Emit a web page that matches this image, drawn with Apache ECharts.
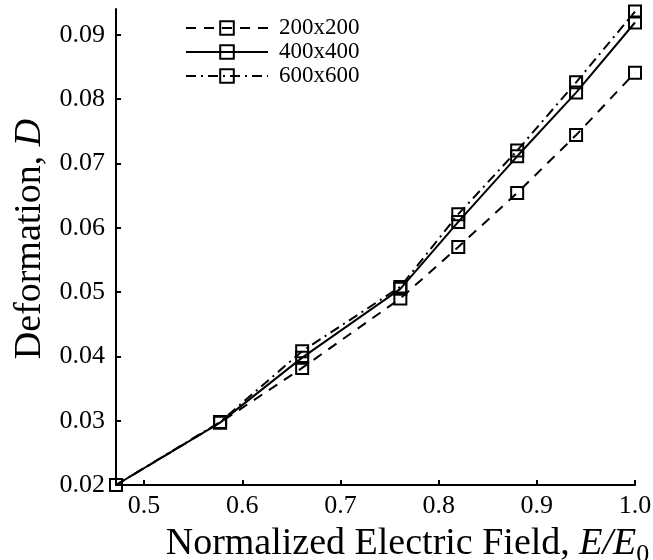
<!DOCTYPE html>
<html>
<head>
<meta charset="utf-8">
<script src="https://cdn.jsdelivr.net/npm/echarts@6/dist/echarts.min.js"></script>
<style>html,body{margin:0;padding:0;background:#fff}#c{width:653px;height:560px}</style>
</head>
<body>
<div id="c"></div>
<script>
var fieldValues = [0.4714, 0.5774, 0.661, 0.761, 0.82, 0.88, 0.94, 1.0];
var def200 = [0.0200, 0.0297, 0.0382, 0.0490, 0.0570, 0.0654, 0.0744, 0.0841];
var def400 = [0.0200, 0.0297, 0.0398, 0.0505, 0.0609, 0.0711, 0.0810, 0.0919];
var def600 = [0.0200, 0.0298, 0.0408, 0.0508, 0.0621, 0.0720, 0.0826, 0.0936];
var seriesNames = ['200x200', '400x400', '600x600'];
var xTicks = [0.5, 0.6, 0.7, 0.8, 0.9, 1.0];
var yTicks = [0.02, 0.03, 0.04, 0.05, 0.06, 0.07, 0.08, 0.09];

var FONT = 'Liberation Serif';
function pairs(ys){ return fieldValues.map(function(x,i){ return [x, ys[i]]; }); }
function mk(name, ys, type){
  return {
    name: name, type: 'line', data: pairs(ys),
    symbol: 'rect', symbolSize: 12, clip: false,
    lineStyle: {color: '#000', width: 2, type: type},
    itemStyle: {color: 'rgba(255,255,255,0)', borderColor: '#000', borderWidth: 2},
    emphasis: {disabled: true}, animation: false
  };
}
var chart = echarts.init(document.getElementById('c'), null, {renderer: 'canvas'});
chart.setOption({
  animation: false,
  backgroundColor: '#fff',
  grid: {left: 116, right: 18, top: 9, bottom: 75, containLabel: false, outerBoundsMode: 'none'},
  legend: {
    orient: 'vertical', left: 185, top: 16, itemGap: 0, padding: 0,
    itemWidth: 82, itemHeight: 17,
    textStyle: {fontFamily: FONT, fontSize: 23, color: '#000', lineHeight: 24, padding: [0,0,0,6]},
    data: seriesNames
  },
  xAxis: {
    type: 'value', min: 0.4714, max: 1.0,
    splitLine: {show: false},
    axisLine: {onZero: false, lineStyle: {color: '#000', width: 2}},
    axisTick: {inside: true, length: 5, lineStyle: {color: '#000', width: 2}, customValues: xTicks},
    axisLabel: {customValues: xTicks, fontFamily: FONT, fontSize: 26, color: '#000', margin: 8,
      formatter: function(v){ return v.toFixed(1); }},
    name: '{n|Normalized Electric Field, }{i|E/E}{s|0}',
    nameLocation: 'middle', nameGap: 35,
    nameTextStyle: {padding: [0,0,0,64], rich: {
      n: {fontFamily: FONT, fontSize: 38, color: '#000'},
      i: {fontFamily: FONT, fontSize: 38, fontStyle: 'italic', color: '#000'},
      s: {fontFamily: FONT, fontSize: 26, color: '#000', padding: [22,0,0,0]}
    }}
  },
  yAxis: {
    type: 'value', min: 0.02, max: 0.094,
    splitLine: {show: false},
    axisLine: {onZero: false, lineStyle: {color: '#000', width: 2}},
    axisTick: {inside: true, length: 5, lineStyle: {color: '#000', width: 2}, customValues: yTicks},
    axisLabel: {customValues: yTicks, fontFamily: FONT, fontSize: 26, color: '#000', margin: 11,
      formatter: function(v){ return v.toFixed(2); }},
    name: '{n|Deformation, }{i|D}',
    nameLocation: 'middle', nameGap: 66,
    nameTextStyle: {padding: [0,0,0,16], rich: {
      n: {fontFamily: FONT, fontSize: 38, color: '#000'},
      i: {fontFamily: FONT, fontSize: 38, fontStyle: 'italic', color: '#000'}
    }}
  },
  series: [mk(seriesNames[0], def200, [10, 8]), mk(seriesNames[1], def400, 'solid'), mk(seriesNames[2], def600, [10, 5, 2, 5])]
});
</script>
</body>
</html>
